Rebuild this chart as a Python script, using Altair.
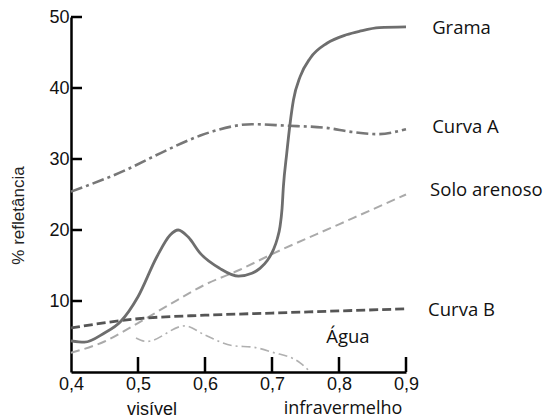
import altair as alt
import pandas as pd

# ---- data ----
grama_x = [0.40, 0.42, 0.45, 0.473, 0.50, 0.528, 0.548, 0.56, 0.575, 0.593, 0.622, 0.65, 0.67, 0.682,
           0.693, 0.702, 0.708, 0.712, 0.715, 0.717, 0.722, 0.727, 0.732, 0.742, 0.757, 0.782, 0.811,
           0.831, 0.86, 0.90]
grama_y = [4.4, 4.2, 5.5, 7.0, 10.6, 16.2, 19.3, 20.0, 19.0, 16.7, 14.6, 13.5, 13.9, 14.6,
           15.7, 17.2, 18.8, 20.5, 23.0, 26.1, 30.8, 35.0, 38.3, 41.6, 44.2, 46.3, 47.5,
           48.0, 48.5, 48.6]

curva_a_x = [0.40, 0.483, 0.533, 0.593, 0.612, 0.67, 0.72, 0.78, 0.82, 0.857, 0.90]
curva_a_y = [25.4, 28.5, 30.8, 33.3, 33.9, 34.9, 34.7, 34.4, 33.8, 33.5, 34.2]

solo_x = [0.40, 0.45, 0.50, 0.558, 0.60, 0.652, 0.70, 0.80, 0.90]
solo_y = [2.7, 4.3, 6.9, 10.1, 12.3, 14.4, 16.6, 20.8, 25.0]

curva_b_x = [0.40, 0.50, 0.60, 0.70, 0.80, 0.90]
curva_b_y = [6.2, 7.5, 8.0, 8.3, 8.6, 8.9]

agua_x = [0.497, 0.513, 0.57, 0.60, 0.642, 0.672, 0.70, 0.742, 0.755]
agua_y = [4.8, 4.3, 6.5, 5.2, 3.7, 3.5, 2.8, 1.3, 0.2]

label_text = ["Grama", "Curva A", "Solo arenoso", "Curva B", "Água"]
label_x = [0.939, 0.939, 0.936, 0.933, 0.781]
label_y = [48.5, 34.5, 25.6, 8.7, 4.9]

x_ticks = [0.4, 0.5, 0.6, 0.7, 0.8, 0.9]
y_ticks = [10, 20, 30, 40, 50]

W, H = 335, 355

xs = alt.Scale(domain=[0.4, 0.9], nice=False, zero=False)
ys = alt.Scale(domain=[0, 50], nice=False, zero=False)

x_axis = alt.Axis(values=x_ticks, labelExpr="replace(format(datum.value, '.1f'), '.', ',')",
                  ticks=False, tickSize=0, labelPadding=3, domainWidth=2.5, domainColor="black",
                  labelFontSize=18, labelFont="Liberation Sans", labelColor="#111", grid=False,
                  title=None, labelFlush=False)
y_axis = alt.Axis(values=y_ticks, ticks=False, tickSize=0, labelPadding=2, domainWidth=2.5,
                  domainColor="black", labelFontSize=18, labelFont="Liberation Sans",
                  labelColor="#111", grid=False, title="% refletância", titleFontSize=17,
                  titleFont="Liberation Sans", titleFontWeight="normal", titleColor="#222",
                  titleX=-53, titleY=198, titleAlign="center", titleBaseline="middle",
                  labelFlush=False)


def line(xv, yv, color, width, dash=None, interp="monotone"):
    df = pd.DataFrame({"x": xv, "y": yv})
    kw = dict(color=color, strokeWidth=width, interpolate=interp)
    if dash:
        kw["strokeDash"] = dash
    return alt.Chart(df).mark_line(**kw).encode(
        x=alt.X("x:Q", scale=xs, axis=x_axis),
        y=alt.Y("y:Q", scale=ys, axis=y_axis),
    )


l_solo = line(solo_x, solo_y, "#aaaaaa", 2, [9, 5])
l_agua = line(agua_x, agua_y, "#b0b0b0", 1.6, [9, 4, 2, 4])
l_b = line(curva_b_x, curva_b_y, "#555555", 2.8, [9, 4])
l_a = line(curva_a_x, curva_a_y, "#777777", 2.6, [12, 4, 3, 4])
l_grama = line(grama_x, grama_y, "#6e6e6e", 2.8)

xt = alt.Chart(pd.DataFrame({"v": x_ticks[1:]})).mark_rule(color="black", strokeWidth=2.5).encode(
    x=alt.X("v:Q", scale=xs), y=alt.value(H), y2=alt.value(H - 15))
yt = alt.Chart(pd.DataFrame({"v": y_ticks})).mark_rule(color="black", strokeWidth=2.5).encode(
    y=alt.Y("v:Q", scale=ys), x=alt.value(0), x2=alt.value(11))

labels = alt.Chart(pd.DataFrame({"t": label_text, "x": label_x, "y": label_y})).mark_text(
    align="left", baseline="middle", font="Open Sans", fontSize=18.5, color="#111").encode(
    x=alt.X("x:Q", scale=xs), y=alt.Y("y:Q", scale=ys), text="t:N")

band_df = pd.DataFrame({"t": ["visível"], "x": [0.521]})
band1 = alt.Chart(band_df).mark_text(align="center", baseline="middle", font="Liberation Sans",
                                     fontSize=18, color="#111").encode(
    x=alt.X("x:Q", scale=xs), y=alt.value(H + 38), text="t:N")
band2_df = pd.DataFrame({"t": ["infravermelho"], "x": [0.806]})
band2 = alt.Chart(band2_df).mark_text(align="center", baseline="middle", font="Open Sans",
                                      fontSize=18, color="#111").encode(
    x=alt.X("x:Q", scale=xs), y=alt.value(H + 37), text="t:N")

chart = alt.layer(l_solo, l_agua, l_b, l_a, l_grama, xt, yt, labels, band1, band2).properties(
    width=W, height=H,
    autosize=alt.AutoSizeParams(type="none"),
    padding={"left": 63, "top": 9, "right": 139, "bottom": 46},
).configure_view(stroke=None)

chart.save("out.html", embed_options={"renderer": "svg", "actions": False})
